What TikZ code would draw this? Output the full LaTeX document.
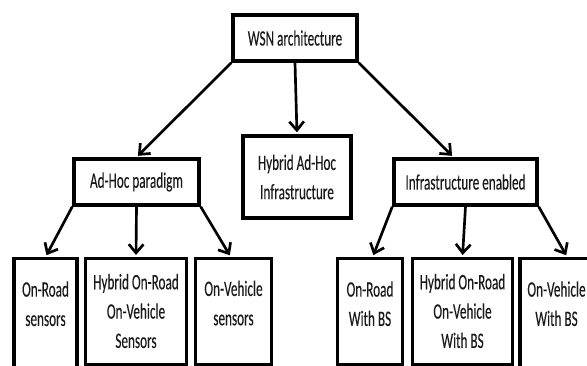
\documentclass[tikz,border=0pt]{standalone}
\usepackage{fontspec}
\setmainfont[FakeStretch=0.6,FakeBold=0.15]{Carlito}
\usetikzlibrary{arrows.meta,calc}
\tikzset{
  box/.style={draw=black, line width=2.6pt, inner sep=0pt, align=center,
    font=\fontsize{16.5}{22}\selectfont, text=black!90},
  bx/.style 2 args={box, minimum width=#1*0.75pt, minimum height=#2*0.75pt},
  arr/.style={line width=2pt, -{Straight Barb[length=6.5pt,width=11pt,line width=2pt]}, shorten >=1.5pt}
}
\newcommand\btext[4]{\parbox[c][#1][t]{#2}{\centering\vspace*{#3}\strut #4}}
\begin{document}
\begin{tikzpicture}[x=0.75pt,y=-0.75pt]
\useasboundingbox (0,0) rectangle (587,366);
\clip (0,0) rectangle (587,366);
\fill[white] (0,0) rectangle (587,366);
% top level
\node[bx={124}{46}] (wsn) at (295,38) {WSN architecture};
\node[bx={125}{46}] (adhoc) at (136.5,182) {Ad-Hoc paradigm};
\node[bx={108}{82}] (hyb) at (297,177) {Hybrid Ad-Hoc\\Infrastructure};
\node[bx={143}{46}] (infra) at (465.5,182) {Infrastructure enabled};
% bottom boxes
\node[box, anchor=north] (ors) at (45.5,257) {\btext{95pt}{47pt}{13pt}{On-Road\\sensors}};
\node[box, anchor=north] (hors) at (136,257) {\btext{79.5pt}{76pt}{7.5pt}{Hybrid On-Road\\On-Vehicle\\Sensors}};
\node[box, anchor=north] (ovs) at (233.5,257) {\btext{79.5pt}{57pt}{12.5pt}{On-Vehicle\\sensors}};
\node[box, anchor=north] (orb) at (370,257) {\btext{79.5pt}{49pt}{13pt}{On-Road\\With BS}};
\node[box, anchor=north] (horb) at (462.5,257) {\btext{79.5pt}{75pt}{7.5pt}{Hybrid On-Road\\On-Vehicle\\With BS}};
\node[box, anchor=north] (ovb) at (556.5,257) {\btext{95pt}{55pt}{13pt}{On-Vehicle\\With BS}};
% connectors
\draw[arr] (wsn.south west) -- (adhoc.north);
\draw[arr] (wsn.south) -- (hyb.north);
\draw[arr] (wsn.south east) -- ([xshift=-9pt]infra.north);
\draw[arr] (adhoc.south west) -- (ors.north);
\draw[arr] (adhoc.south) -- (hors.north);
\draw[arr] (adhoc.south east) -- ([xshift=-2pt]ovs.north);
\draw[arr] (infra.south west) -- ([xshift=2pt]orb.north);
\draw[arr] (infra.south) -- (horb.north);
\draw[arr] (infra.south east) -- ([xshift=8pt]ovb.north);
\end{tikzpicture}
\end{document}
